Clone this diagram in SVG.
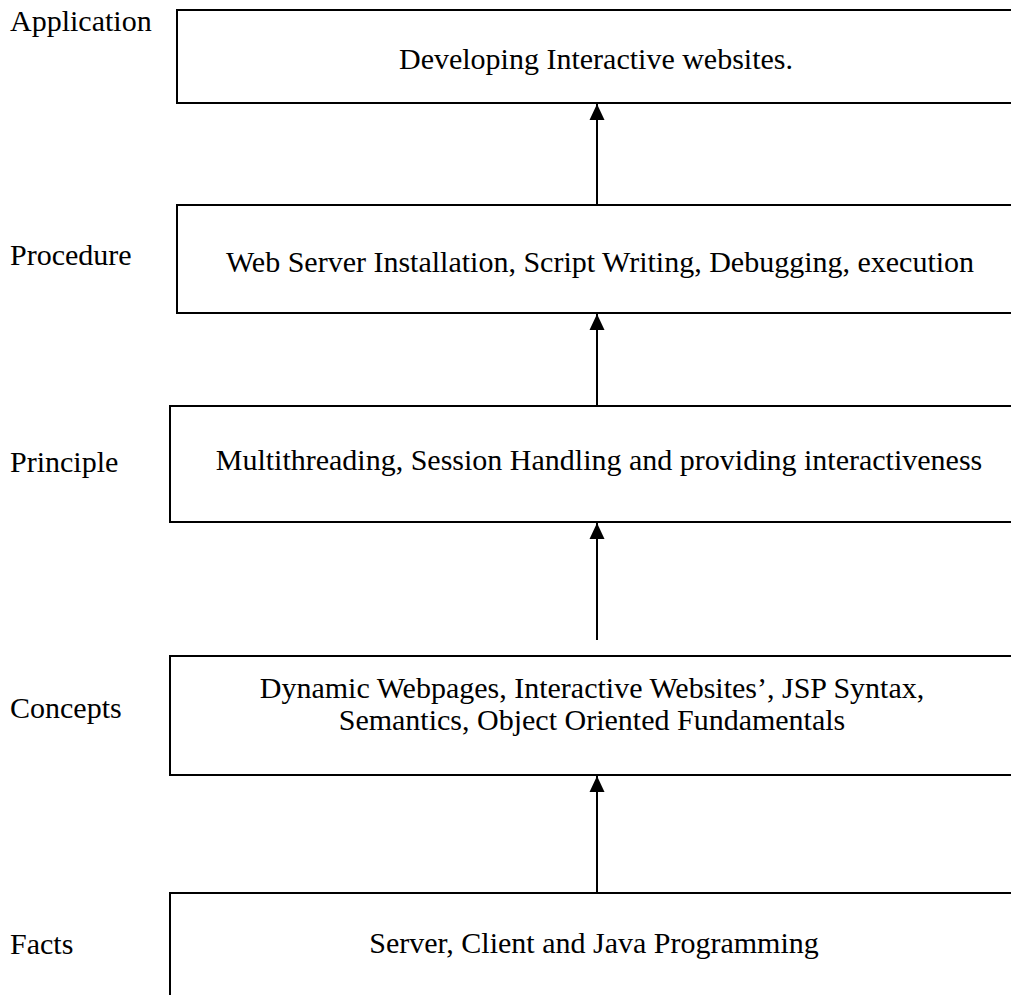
<svg xmlns="http://www.w3.org/2000/svg" width="1011" height="995" viewBox="0 0 1011 995">
<style>
.box{fill:#fff;stroke:#000;stroke-width:2}
.t{font-family:"Liberation Serif","Times New Roman",serif;font-size:30px;fill:#000}
.c{text-anchor:middle}
.arr{stroke:#000;stroke-width:2;fill:none}
</style>
<defs>
<marker id="ah" markerWidth="17" markerHeight="17" viewBox="0 0 17 17" refX="16" refY="8" orient="auto" markerUnits="userSpaceOnUse">
<path d="M0,0.5 L16,8 L0,15.5 Z" fill="#000"/>
</marker>
</defs>
<g id="connectors">
<line class="arr" x1="597" y1="205" x2="597" y2="104" marker-end="url(#ah)"/>
<line class="arr" x1="597" y1="408" x2="597" y2="314" marker-end="url(#ah)"/>
<line class="arr" x1="597" y1="640" x2="597" y2="523" marker-end="url(#ah)"/>
<line class="arr" x1="597" y1="893" x2="597" y2="776" marker-end="url(#ah)"/>
</g>
<g id="application">
<text class="t" x="10" y="31">Application</text>
<rect class="box" x="177" y="10" width="850" height="93"/>
<text class="t c" x="596" y="69">Developing Interactive websites.</text>
</g>
<g id="procedure">
<text class="t" x="10" y="265">Procedure</text>
<rect class="box" x="177" y="205" width="850" height="108"/>
<text class="t c" x="600" y="272">Web Server Installation, Script Writing, Debugging, execution</text>
</g>
<g id="principle">
<text class="t" x="10" y="472">Principle</text>
<rect class="box" x="170" y="406" width="860" height="116"/>
<text class="t c" x="599" y="470">Multithreading, Session Handling and providing interactiveness</text>
</g>
<g id="concepts">
<text class="t" x="10" y="718">Concepts</text>
<rect class="box" x="170" y="656" width="860" height="119"/>
<text class="t c" x="592" y="698">Dynamic Webpages, Interactive Websites’, JSP Syntax,</text>
<text class="t c" x="592" y="730">Semantics, Object Oriented Fundamentals</text>
</g>
<g id="facts">
<text class="t" x="10" y="954">Facts</text>
<rect class="box" x="170" y="893" width="860" height="120"/>
<text class="t c" x="594" y="953">Server, Client and Java Programming</text>
</g>
</svg>
